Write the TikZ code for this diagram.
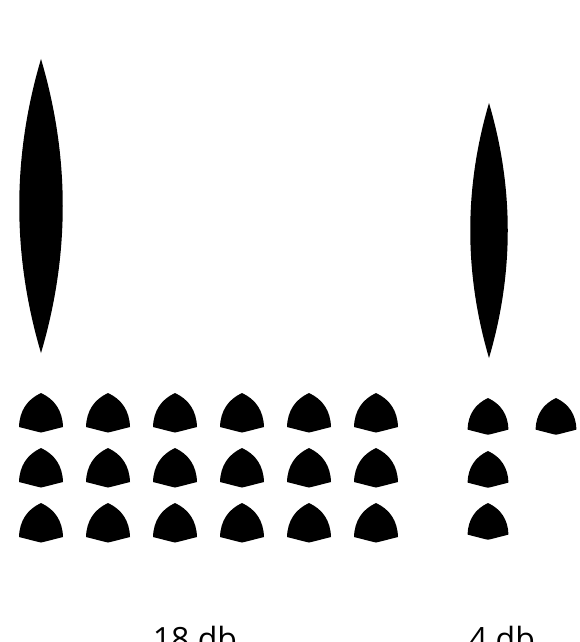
\documentclass[tikz,border=0pt]{standalone}
\usepackage{fontspec}
\setmainfont{Open Sans}
\tikzset{
  reul/.pic={
    \fill[black] (0,0) .. controls (-14,6.5) and (-21.5,18) .. (-22,34)
      .. controls (-10,37) and (-3,39) .. (0,39.5)
      .. controls (3,39) and (10,37) .. (22,34)
      .. controls (21.5,18) and (14,6.5) .. (0,0) -- cycle;
  },
  lbl/.style={font=\fontsize{32}{38}\selectfont, anchor=base, inner sep=0pt}
}
\begin{document}
\begin{tikzpicture}[x=1pt,y=-1pt]
\useasboundingbox (0,0) rectangle (579,642);
% lenses
\fill[black] (41,59) .. controls (12,157) and (12,255) .. (41,353)
  .. controls (70,255) and (70,157) .. (41,59) -- cycle;
\fill[black] (489,103) .. controls (464,188) and (464,273) .. (489,358)
  .. controls (514,273) and (514,188) .. (489,103) -- cycle;
% left grid
\foreach \cx in {41,108,175,242,309,376}{
  \foreach \ty in {393,448,503}{
    \pic at (\cx,\ty) {reul};
  }
}
% right group
\pic[scale=0.93] at (488,398) {reul};
\pic[scale=0.93] at (556,398) {reul};
\pic[scale=0.93] at (488,451) {reul};
\pic[scale=0.93] at (488,503) {reul};
% labels
\node[lbl] (l18) at (195,650) {18 db};
\node[lbl] (l4) at (502,650) {4 db};
\end{tikzpicture}
\end{document}
